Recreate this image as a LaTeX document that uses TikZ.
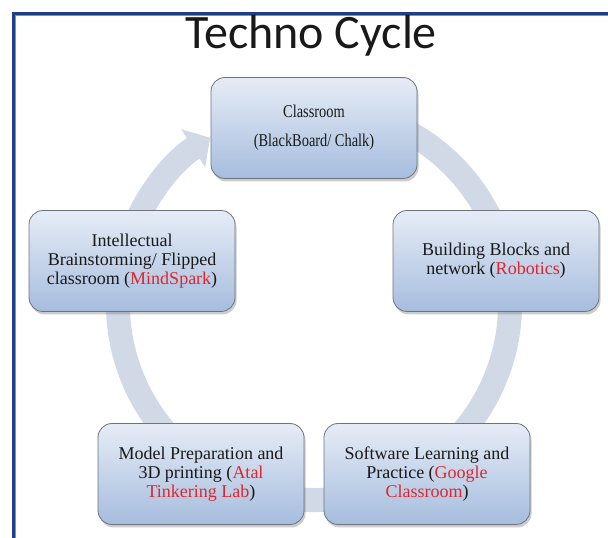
\documentclass[tikz,border=0pt]{standalone}
\usepackage{fontspec}
\setmainfont{Liberation Serif}
\newfontfamily\titlefont{Carlito}
\newfontfamily\narrowfont[FakeStretch=0.8]{Liberation Serif}
\usetikzlibrary{arrows.meta,shadows}

\definecolor{frameblue}{RGB}{31,63,135}
\definecolor{framelight}{RGB}{120,145,195}
\definecolor{bandgray}{RGB}{209,217,231}
\definecolor{boxtop}{RGB}{230,236,246}
\definecolor{boxbot}{RGB}{166,189,222}
\definecolor{boxline}{RGB}{110,116,126}
\definecolor{hlred}{RGB}{222,38,44}
\definecolor{inkgray}{RGB}{25,25,25}
\newcommand{\hlt}[1]{\textcolor{hlred}{#1}}

\tikzset{
  stage/.style={draw=boxline, line width=0.8pt, rounded corners=14pt,
    top color=boxtop, bottom color=boxbot,
    minimum width=206pt, minimum height=101pt, align=center,
    text=inkgray, font=\fontsize{18}{19}\selectfont,
    drop shadow={shadow xshift=1.5pt, shadow yshift=-3pt, opacity=0.4}},
  band/.style={line width=24pt, draw=bandgray}
}

\begin{document}
\begin{tikzpicture}[x=1pt,y=1pt]
\useasboundingbox (0,0) rectangle (608,538);
% frame
\draw[frameblue, line width=3pt] (13.5,0) -- (13.5,524.5) -- (608,524.5);
\draw[framelight, line width=0.8pt] (15.6,0) -- (15.6,522.4) -- (608,522.4);
\node[anchor=base, text=inkgray, font=\titlefont\fontsize{48}{48}\selectfont] (title) at (311,489) {Techno Cycle};
% the cycle behind the stages
\coordinate (hub) at (314,234);
\draw[band, -{Triangle[length=20pt,width=44pt]}] (hub) ++(70:196)
    arc[start angle=70, end angle=-238, radius=196];
% stages
\node[stage, font=\narrowfont\fontsize{18}{19}\selectfont] (classroom) at (314,410)
    {Classroom\\[10pt](BlackBoard/ Chalk)};
\node[stage] (blocks) at (496,277) {Building Blocks and\\network (\hlt{Robotics})};
\node[stage] (software) at (427,64) {Software Learning and\\Practice (\hlt{Google}\\\hlt{Classroom})};
\node[stage] (model) at (201,64) {Model Preparation and\\3D printing (\hlt{Atal}\\\hlt{Tinkering Lab})};
\node[stage] (brainstorm) at (132,277) {Intellectual\\Brainstorming/ Flipped\\classroom (\hlt{MindSpark})};
\end{tikzpicture}
\end{document}
